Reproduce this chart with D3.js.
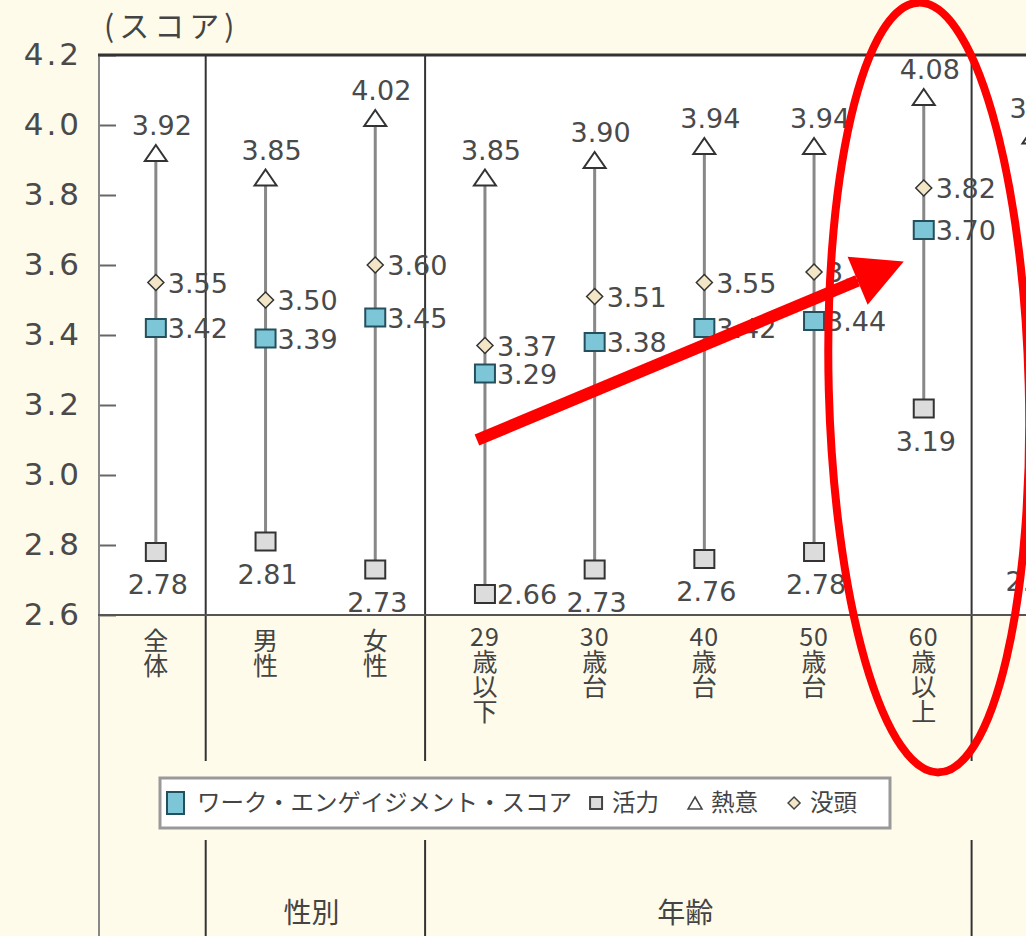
<!DOCTYPE html>
<html>
<head>
<meta charset="utf-8">
<script src="https://cdn.jsdelivr.net/npm/d3@7"></script>
<style>
    body { margin: 0; background: #fffbea; }
    #chart-area { width: 1026px; height: 936px; }
    .num { font-family: "DejaVu Sans", sans-serif; fill: #4a4a4a; }
    .jp { font-family: "Noto Sans CJK JP", sans-serif; fill: #444; }
</style>
</head>
<body>
<div id="chart-area"></div>
<script>

// categories (last one is cut off at the right edge of the picture)
const categories = ['全体', '男性', '女性', '29歳以下', '30歳台', '40歳台', '50歳台', '60歳以上', '右端']
const categoryNums = ['', '', '', '29', '30', '40', '50', '60', '']
const categoryWords = ['全体', '男性', '女性', '歳以下', '歳台', '歳台', '歳台', '歳以上', '']

// series values
const score = [3.42, 3.39, 3.45, 3.29, 3.38, 3.42, 3.44, 3.70, null]      // ワーク・エンゲイジメント・スコア
const vigor = [2.78, 2.81, 2.73, 2.66, 2.73, 2.76, 2.78, 3.19, 2.79]      // 活力
const dedication = [3.92, 3.85, 4.02, 3.85, 3.90, 3.94, 3.94, 4.08, 3.97] // 熱意
const absorption = [3.55, 3.50, 3.60, 3.37, 3.51, 3.55, 3.58, 3.82, null] // 没頭

// groups below the axis
const groupNames = ['性別', '年齢']
const groupFirst = ['男性', '29歳以下']
const groupLast = ['女性', '60歳以上']

const yTicks = [2.6, 2.8, 3.0, 3.2, 3.4, 3.6, 3.8, 4.0, 4.2]
const yTitle = '(スコア)'
const legendLabels = ['ワーク・エンゲイジメント・スコア', '活力', '熱意', '没頭']


class EngagementChart {

    constructor(parentElement) {
        this.parentElement = parentElement;
        this.initVis()
    }

    initVis() {
        let vis = this;

        vis.margin = {top: 55, right: 0, bottom: 321, left: 100};
        vis.width = 1026 - vis.margin.left - vis.margin.right;
        vis.height = 936 - vis.margin.top - vis.margin.bottom;

        vis.root = d3.select("#" + vis.parentElement).append("svg")
            .attr("width", 1026)
            .attr("height", 936)

        vis.root.append('rect')
            .attr('width', 1026).attr('height', 936)
            .attr('fill', '#fffbea')

        vis.svg = vis.root.append('g')
            .attr('transform', `translate (${vis.margin.left}, ${vis.margin.top})`);

        // white plot area
        vis.svg.append('rect')
            .attr('width', vis.width)
            .attr('height', vis.height)
            .attr('fill', '#ffffff')

        vis.x = d3.scaleBand()
            .domain(categories)
            .range([1, 1 + 109.7 * categories.length])

        vis.y = d3.scaleLinear()
            .domain([2.6, 4.2])
            .range([vis.height, 0])

        vis.data = categories.map((c, i) => ({
            cat: c, num: categoryNums[i], word: categoryWords[i],
            score: score[i], vigor: vigor[i], dedication: dedication[i], absorption: absorption[i]
        }))

        vis.drawFrame();
        vis.drawSeries();
        vis.drawLegend();
        vis.drawAnnotation();
    }

    cx(cat) {
        return this.x(cat) + this.x.bandwidth() / 2;
    }

    drawFrame() {
        let vis = this;

        // y axis
        let yAxis = d3.axisLeft(vis.y)
            .tickValues(yTicks)
            .tickFormat(d3.format('.1f'))
            .tickSize(-16)
            .tickPadding(18)

        let yg = vis.svg.append('g').call(yAxis)
        yg.select('.domain').remove()
        yg.selectAll('.tick line').attr('stroke', '#666').attr('stroke-width', 2)
        yg.selectAll('.tick text')
            .attr('class', 'num')
            .style('font-size', '31px')
            .style('letter-spacing', '3px')
            .attr('fill', '#3a3a3a')

        // y title
        vis.root.append('text')
            .attr('class', 'jp')
            .attr('x', 104)
            .attr('y', 37)
            .style('font-size', '30px')
            .style('letter-spacing', '5px')
            .text(yTitle)

        // separators between groups
        let sepX = []
        groupFirst.forEach(c => sepX.push(vis.x(c) - 5))
        sepX.push(vis.x(groupLast[1]) + vis.x.bandwidth() - 7)

        sepX.forEach(sx => {
            vis.svg.append('line')
                .attr('x1', sx).attr('x2', sx)
                .attr('y1', 0).attr('y2', 706)
                .attr('stroke', '#333').attr('stroke-width', 2)
            vis.svg.append('line')
                .attr('x1', sx).attr('x2', sx)
                .attr('y1', 785).attr('y2', 900)
                .attr('stroke', '#333').attr('stroke-width', 2)
        })

        // left frame line
        vis.svg.append('line')
            .attr('x1', -1).attr('x2', -1)
            .attr('y1', 0).attr('y2', 900)
            .attr('stroke', '#888').attr('stroke-width', 2)

        // top and bottom lines
        vis.svg.append('line')
            .attr('x1', -2).attr('x2', vis.width)
            .attr('y1', 0).attr('y2', 0)
            .attr('stroke', '#333').attr('stroke-width', 3)
        vis.svg.append('line')
            .attr('x1', -2).attr('x2', vis.width)
            .attr('y1', vis.height).attr('y2', vis.height)
            .attr('stroke', '#555').attr('stroke-width', 2)

        // category labels: number across, words written vertically
        vis.data.forEach(d => {
            let top = vis.height + 13
            if (d.num) {
                vis.svg.append('text')
                    .attr('class', 'jp')
                    .attr('text-anchor', 'middle')
                    .attr('x', vis.cx(d.cat))
                    .attr('y', vis.height + 31)
                    .style('font-size', '25px')
                    .style('letter-spacing', '1px')
                    .text(d.num)
                top = vis.height + 34
            }
            if (d.word) {
                vis.svg.append('text')
                    .attr('class', 'jp')
                    .attr('x', vis.cx(d.cat))
                    .attr('y', top)
                    .style('writing-mode', 'vertical-rl')
                    .style('text-orientation', 'upright')
                    .style('font-size', '25px')
                    .text(d.word)
            }
        })

        // group labels
        groupNames.forEach((g, i) => {
            let left = vis.x(groupFirst[i]) - 5
            let right = vis.x(groupLast[i]) + vis.x.bandwidth() - 5
            vis.svg.append('text')
                .attr('class', 'jp')
                .attr('text-anchor', 'middle')
                .attr('x', (left + right) / 2 - (i === 0 ? 4 : 14))
                .attr('y', 868)
                .style('font-size', '28px')
                .text(g)
        })
    }

    drawSeries() {
        let vis = this;
        let g = vis.svg.append('g')

        // whiskers
        g.selectAll('.whisker').data(vis.data)
            .enter().append('line')
            .attr('class', 'whisker')
            .attr('x1', d => vis.cx(d.cat)).attr('x2', d => vis.cx(d.cat))
            .attr('y1', d => vis.y(d.vigor))
            .attr('y2', d => vis.y(d.dedication))
            .attr('stroke', '#888').attr('stroke-width', 3)

        // vigor squares
        g.selectAll('.vigor').data(vis.data)
            .enter().append('rect')
            .attr('x', d => vis.cx(d.cat) - 10)
            .attr('y', d => vis.y(d.vigor) - 9)
            .attr('width', 20).attr('height', 18)
            .attr('fill', '#dcdcdc').attr('stroke', '#333').attr('stroke-width', 2)

        // dedication triangles
        g.selectAll('.ded').data(vis.data)
            .enter().append('path')
            .attr('d', d => {
                let px = vis.cx(d.cat), py = vis.y(d.dedication)
                return `M${px},${py - 8} L${px + 11},${py + 8} L${px - 11},${py + 8} Z`
            })
            .attr('fill', '#fff').attr('stroke', '#333').attr('stroke-width', 2)

        // score squares
        let scoreData = vis.data.filter(d => d.score !== null)
        g.selectAll('.score').data(scoreData)
            .enter().append('rect')
            .attr('x', d => vis.cx(d.cat) - 10)
            .attr('y', d => vis.y(d.score) - 9)
            .attr('width', 20).attr('height', 18)
            .attr('fill', '#7cc6d8').attr('stroke', '#24505e').attr('stroke-width', 2)

        // absorption diamonds
        let absData = vis.data.filter(d => d.absorption !== null)
        g.selectAll('.abs').data(absData)
            .enter().append('path')
            .attr('d', d => {
                let px = vis.cx(d.cat), py = vis.y(d.absorption)
                return `M${px},${py - 8} L${px + 8},${py} L${px},${py + 8} L${px - 8},${py} Z`
            })
            .attr('fill', '#f3e6c6').attr('stroke', '#333').attr('stroke-width', 1.5)

        let fmt = d3.format('.2f')

        // labels
        g.selectAll('.dedLabel').data(vis.data)
            .enter().append('text')
            .attr('class', 'num')
            .attr('text-anchor', 'middle')
            .attr('x', d => vis.cx(d.cat) + 6)
            .attr('y', d => vis.y(d.dedication) - 18)
            .style('font-size', '27px')
            .text(d => fmt(d.dedication))

        g.selectAll('.absLabel').data(absData)
            .enter().append('text')
            .attr('class', 'num')
            .attr('x', d => vis.cx(d.cat) + 12)
            .attr('y', d => vis.y(d.absorption) + 10)
            .style('font-size', '27px')
            .text(d => fmt(d.absorption))

        g.selectAll('.scoreLabel').data(scoreData)
            .enter().append('text')
            .attr('class', 'num')
            .attr('x', d => vis.cx(d.cat) + 12)
            .attr('y', d => vis.y(d.score) + 10)
            .style('font-size', '27px')
            .text(d => fmt(d.score))

        // vigor label goes below unless it would hit the axis
        let below = d => vis.y(d.vigor) + 41 <= vis.height
        g.selectAll('.vigLabel').data(vis.data)
            .enter().append('text')
            .attr('class', 'num')
            .attr('text-anchor', d => below(d) ? 'middle' : 'start')
            .attr('x', d => below(d) ? vis.cx(d.cat) + 2 : vis.cx(d.cat) + 12)
            .attr('y', d => below(d) ? vis.y(d.vigor) + 42 : vis.y(d.vigor) + 10)
            .style('font-size', '27px')
            .text(d => fmt(d.vigor))
    }

    drawLegend() {
        let vis = this;

        let lg = vis.root.append('g').attr('transform', 'translate(160, 778)')
        lg.append('rect')
            .attr('width', 730).attr('height', 50)
            .attr('fill', '#fff').attr('stroke', '#999').attr('stroke-width', 3)

        let xPos = 15
        legendLabels.forEach((lab, i) => {
            let sym = lg.append('g').attr('transform', `translate(${xPos}, 25)`)
            if (i === 0) {
                sym.append('rect').attr('x', -8).attr('y', -11).attr('width', 17).attr('height', 22)
                    .attr('fill', '#7cc6d8').attr('stroke', '#24505e').attr('stroke-width', 2)
            } else if (i === 1) {
                sym.append('rect').attr('x', -6).attr('y', -6).attr('width', 12).attr('height', 12)
                    .attr('fill', '#dcdcdc').attr('stroke', '#444').attr('stroke-width', 2)
            } else if (i === 2) {
                sym.append('path').attr('d', 'M0,-6 L7,6 L-7,6 Z')
                    .attr('fill', '#fff').attr('stroke', '#444').attr('stroke-width', 1.5)
            } else {
                sym.append('path').attr('d', 'M0,-6 L6,0 L0,6 L-6,0 Z')
                    .attr('fill', '#f3e6c6').attr('stroke', '#444').attr('stroke-width', 1.5)
            }
            let off = i === 0 ? 22 : 16
            let t = lg.append('text')
                .attr('class', 'jp')
                .attr('x', xPos + off)
                .attr('y', 33)
                .style('font-size', '23.5px')
                .attr('fill', '#555')
                .text(lab)
            xPos += off + t.node().getComputedTextLength() + (i === 0 ? 24 : 36)
        })
    }

    drawAnnotation() {
        let vis = this;
        let a = vis.svg.append('g')

        // red ellipse round 60歳以上
        let ex = vis.cx('60歳以上') + 5
        a.append('ellipse')
            .attr('cx', ex)
            .attr('cy', vis.y(3.25))
            .attr('rx', 100)
            .attr('ry', 385)
            .attr('transform', `rotate(-1.5, ${ex}, ${vis.y(3.25)})`)
            .attr('fill', 'none')
            .attr('stroke', '#ff0000')
            .attr('stroke-width', 8)

        // red arrow
        let sx = vis.cx('29歳以下') - 8, sy = vis.y(3.1)
        let tx = vis.cx('60歳以上') - 20, ty = vis.y(3.61)
        let ang = Math.atan2(ty - sy, tx - sx)
        let headLen = 50, headW = 26
        let bx = tx - headLen * Math.cos(ang), by = ty - headLen * Math.sin(ang)
        a.append('line')
            .attr('x1', sx).attr('y1', sy)
            .attr('x2', bx).attr('y2', by)
            .attr('stroke', '#ff0000').attr('stroke-width', 12)
        let nx = -Math.sin(ang), ny = Math.cos(ang)
        a.append('path')
            .attr('d', `M${tx},${ty} L${bx + nx * headW},${by + ny * headW} L${bx - nx * headW},${by - ny * headW} Z`)
            .attr('fill', '#ff0000')
    }
}

new EngagementChart('chart-area')

</script>
</body>
</html>
